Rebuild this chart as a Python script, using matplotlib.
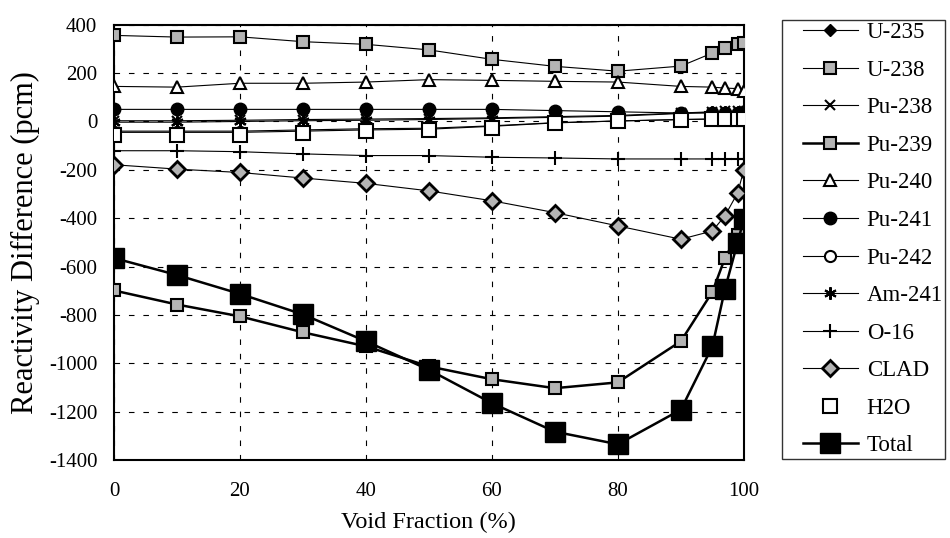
import matplotlib
matplotlib.use("Agg")
import matplotlib.pyplot as plt
from matplotlib.lines import Line2D
from matplotlib.legend_handler import HandlerLine2D

plt.rcParams['font.family'] = ['Liberation Serif', 'DejaVu Serif']
plt.rcParams['axes.unicode_minus'] = False

void = [0, 10, 20, 30, 40, 50, 60, 70, 80, 90, 95, 97, 99, 100]

u235 = [-40, -40, -40, -35, -30, -28, -18, -5, 2, 8, 10, 12, 12, 12]
u238 = [356, 349, 350, 330, 319, 296, 257, 228, 208, 229, 283, 305, 322, 325]
pu238 = [3, 3, 5, 8, 10, 12, 15, 20, 25, 35, 40, 42, 42, 45]
pu239 = [-699, -757, -806, -872, -930, -1013, -1066, -1103, -1079, -909, -705, -565, -470, -400]
pu240 = [145, 142, 158, 158, 163, 173, 170, 166, 163, 145, 142, 138, 136, 125]
pu241 = [50, 50, 50, 50, 50, 50, 50, 45, 40, 35, 35, 35, 35, 35]
pu242 = [-45, -45, -45, -40, -35, -32, -20, -6, 2, 8, 10, 12, 12, 12]
am241 = [-3, -3, 0, 3, 5, 8, 12, 17, 22, 33, 38, 40, 40, 42]
o16 = [-121, -121, -125, -134, -141, -141, -148, -151, -155, -155, -155, -155, -155, -155]
clad = [-179, -197, -211, -234, -256, -287, -328, -377, -432, -487, -453, -390, -296, -201]
h2o = [-55, -55, -55, -47, -40, -37, -25, -8, 0, 8, 10, 12, 12, 12]
total = [-565, -635, -713, -798, -909, -1027, -1165, -1283, -1335, -1192, -930, -693, -501, -404]

labels = ["U-235", "U-238", "Pu-238", "Pu-239", "Pu-240", "Pu-241", "Pu-242",
          "Am-241", "O-16", "CLAD", "H2O", "Total"]
yticks = [400, 200, 0, -200, -400, -600, -800, -1000, -1200, -1400]
xticks = [0, 20, 40, 60, 80, 100]

grey = '#b4b4b4'
styles = [
    dict(marker='D', ms=6, mfc='black', mec='black', lw=0.8),
    dict(marker='s', ms=8, mfc=grey, mec='black', mew=1.5, lw=0.8),
    dict(marker='x', ms=7, mfc='none', mec='black', mew=1.5, lw=0.8),
    dict(marker='s', ms=8, mfc=grey, mec='black', mew=1.5, lw=1.8),
    dict(marker='^', ms=8, mfc='white', mec='black', mew=1.5, lw=0.8),
    dict(marker='o', ms=9, mfc='black', mec='black', lw=0.8),
    dict(marker='o', ms=8, mfc='white', mec='black', mew=1.5, lw=0.8),
    dict(marker=(6, 2, 0), ms=9, mfc='none', mec='black', mew=1.5, lw=0.8),
    dict(marker='+', ms=10, mfc='none', mec='black', mew=1.5, lw=0.8),
    dict(marker='D', ms=8, mfc=grey, mec='black', mew=2.0, lw=0.8),
    dict(marker='s', ms=10, mfc='white', mec='black', mew=1.5, lw=0),
    dict(marker='s', ms=15, mfc='black', mec='black', lw=1.8),
]
series = [u235, u238, pu238, pu239, pu240, pu241, pu242, am241, o16, clad, h2o, total]

fig = plt.figure(figsize=(9.5, 5.38), dpi=100)
ax = fig.add_axes([0.12, 0.145, 0.663, 0.809])

handles = []
for i, (lab, vals, st) in enumerate(zip(labels, series, styles)):
    ls = '-' if st['lw'] > 0 else 'none'
    ax.plot(void, vals, linestyle=ls, color='black', linewidth=st['lw'] if st['lw'] > 0 else 1,
            marker=st['marker'], markersize=st['ms'], markerfacecolor=st['mfc'],
            markeredgecolor=st['mec'], markeredgewidth=st.get('mew', 1.0), zorder=3 + i)
    handles.append(Line2D([0], [0], linestyle=ls, color='black',
                          linewidth=st['lw'] if st['lw'] > 0 else 1,
                          marker=st['marker'], markersize=st['ms'], markerfacecolor=st['mfc'],
                          markeredgecolor=st['mec'], markeredgewidth=st.get('mew', 1.0)))

ax.set_xlim(0, 100)
ax.set_ylim(-1400, 400)
ax.set_xticks(xticks)
ax.set_yticks(yticks)
ax.grid(True, linestyle=(0, (5, 8)), color='black', linewidth=0.8)
ax.tick_params(labelsize=15, direction='out', length=0)
ax.tick_params(axis='y', pad=12)
ax.tick_params(axis='x', pad=16)
for s in ax.spines.values():
    s.set_linewidth(1.5)
ax.set_xlabel("Void Fraction (%)", fontsize=17.5, labelpad=8)
ax.set_ylabel("Reactivity Difference (pcm)", fontsize=22, labelpad=6)

leg = fig.legend(handles, labels, loc='upper left', bbox_to_anchor=(782 / 950, 1 - 20 / 538),
                 frameon=True, fancybox=False, edgecolor='black', fontsize=16.5,
                 handlelength=3.2, labelspacing=0.72, borderpad=0.1, handletextpad=0.4,
                 borderaxespad=0, handler_map={Line2D: HandlerLine2D(xpad=0.8)})
leg.get_frame().set_linewidth(1.0)

fig.savefig("out.png", dpi=100)
